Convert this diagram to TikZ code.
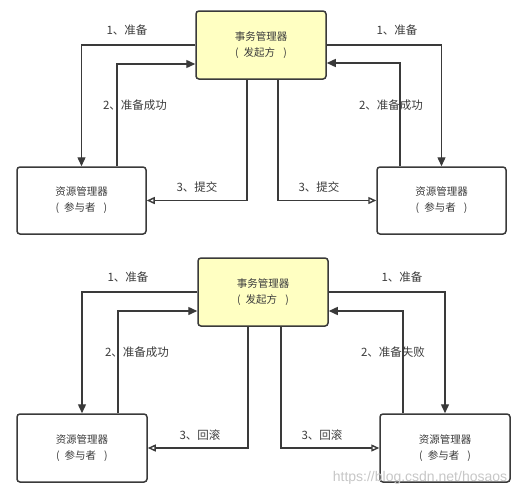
\documentclass[tikz,border=0pt]{standalone}
\usepackage{fontspec}
\newfontfamily\cjk{Noto Sans CJK SC}
\newfontfamily\wmfont{Liberation Sans}
\usetikzlibrary{arrows.meta}
\definecolor{coordfill}{RGB}{255,255,194}
\definecolor{linecol}{RGB}{58,58,58}
\definecolor{txtcol}{RGB}{60,60,60}
\newcommand{\mgr}{资源管理器\hspace{9pt}\\(\hspace{5pt}参与者\hspace{8pt})}
\newcommand{\tmgr}{事务管理器\\(\hspace{5pt}发起方\hspace{8pt})}
\begin{document}
\begin{tikzpicture}[x=1pt,y=-1pt,
  font=\cjk\fontsize{10.5}{16}\selectfont,
  every node/.style={text=txtcol},
  coordbox/.style={draw=linecol,line width=1.5pt,fill=coordfill,rounded corners=3pt,
    minimum width=130pt,minimum height=68pt,align=center,inner sep=0pt},
  partbox/.style={draw=linecol,line width=1.5pt,fill=white,rounded corners=3pt,
    minimum width=129pt,minimum height=67pt,align=center,inner sep=0pt},
  msg/.style={draw=linecol,line width=1.4pt,-{Triangle[length=9pt,width=8pt]}},
  msgopen/.style={draw=linecol,line width=1.4pt,-{Triangle[open,length=8pt,width=7pt,fill=white]}},
  lbl/.style={inner sep=0pt,anchor=center,font=\cjk\fontsize{11.5}{14}\selectfont}]
\useasboundingbox[fill=white] (0,0) rectangle (528,496);

% ---------- top diagram ----------
\node[coordbox] (c1) at (261,45) {\tmgr};
\node[partbox] (p1) at (81.5,200.5) {\mgr};
\node[partbox] (p2) at (441.5,200.5) {\mgr};

\draw[msg] (c1.west) -| (p1.north);
\draw[msg] (p1.north -| {(117,0)}) |- (c1.west |- {(0,64)});
\draw[msgopen] (c1.south -| {(247,0)}) |- (p1.east);

\draw[msg] (c1.east) -| (p2.north);
\draw[msg] (p2.north -| {(400,0)}) |- (c1.east |- {(0,63)});
\draw[msgopen] (c1.south -| {(278,0)}) |- (p2.west);

\node[lbl] (t1a) at (127,30) {1、准备};
\node[lbl] (t1b) at (135,105) {2、准备成功};
\node[lbl] (t1c) at (197,187) {3、提交};
\node[lbl] (t1d) at (397,30) {1、准备};
\node[lbl] (t1e) at (391,105) {2、准备成功};
\node[lbl] (t1f) at (319,187) {3、提交};

% ---------- bottom diagram ----------
\node[coordbox] (c2) at (263,292) {\tmgr};
\node[partbox,minimum width=130pt,minimum height=68pt] (q1) at (82,448) {\mgr};
\node[partbox,minimum width=130pt,minimum height=68pt] (q2) at (445,448) {\mgr};

\draw[msg] (c2.west) -| (q1.north);
\draw[msg] (q1.north -| {(118,0)}) |- (c2.west |- {(0,311)});
\draw[msgopen] (c2.south -| {(248,0)}) |- (q1.east);

\draw[msg] (c2.east) -| (q2.north);
\draw[msg] (q2.north -| {(403,0)}) |- (c2.east |- {(0,311)});
\draw[msgopen] (c2.south -| {(281,0)}) |- (q2.west);

\node[lbl] (t2a) at (128,277) {1、准备};
\node[lbl] (t2b) at (137,352) {2、准备成功};
\node[lbl] (t2c) at (200,435) {3、回滚};
\node[lbl] (t2d) at (402,277) {1、准备};
\node[lbl] (t2e) at (393,352) {2、准备失败};
\node[lbl] (t2f) at (322,435) {3、回滚};

\node[lbl,text=black!22,font=\wmfont\fontsize{14}{16}\selectfont] (wm) at (420,478) {https://blog.csdn.net/hosaos};
\end{tikzpicture}
\end{document}
